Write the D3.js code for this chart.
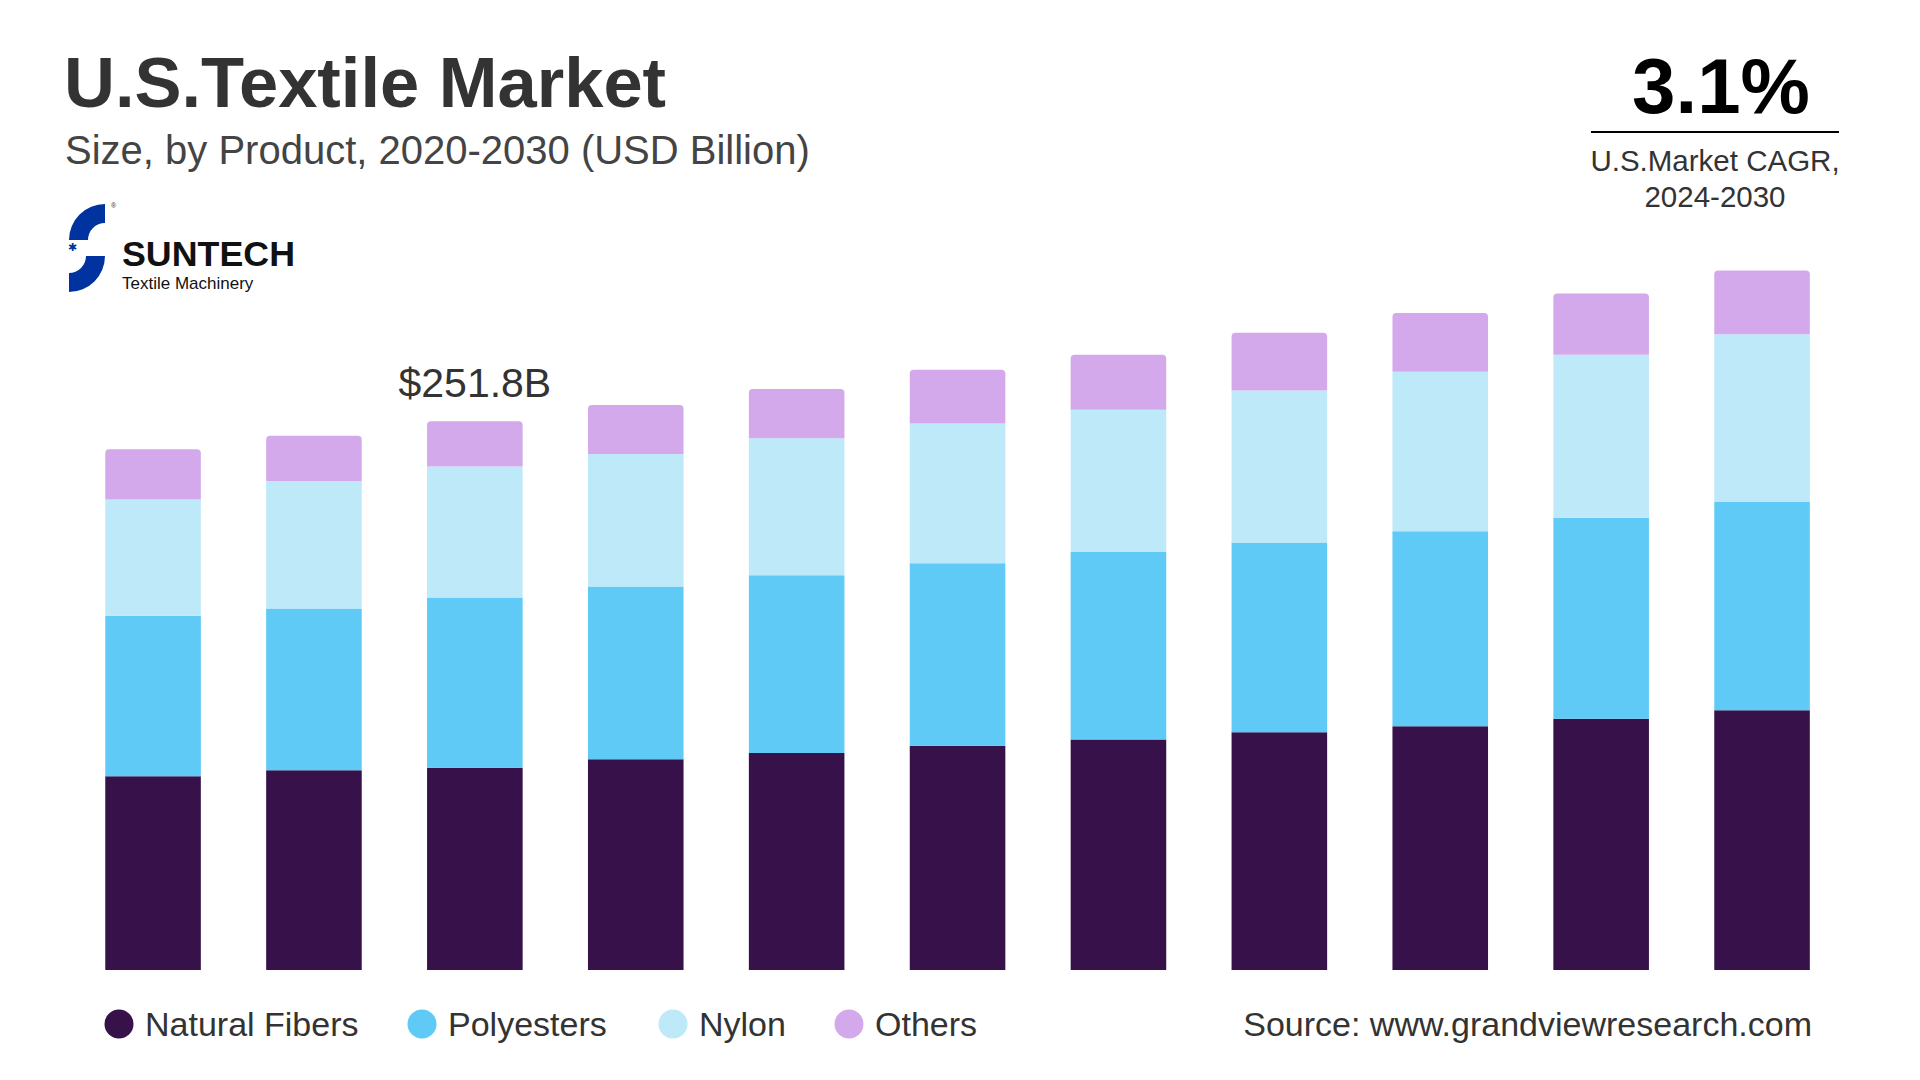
<!DOCTYPE html>
<html><head><meta charset="utf-8">
<script src="https://cdn.jsdelivr.net/npm/d3@7"></script>
<style>html,body{margin:0;padding:0;background:#fff;}svg{display:block;font-family:"Liberation Sans",Arial,sans-serif;}</style>
</head><body>
<svg id="chart" width="1920" height="1080"></svg>
<script>
const years = ["2020","2021","2022","2023","2024","2025","2026","2027","2028","2029","2030"];
const seriesNames = ["Natural Fibers","Polyesters","Nylon","Others"];
const seriesColors = ["#36114a","#5ecaf5","#bde9f9","#d4a9ec"];
const naturalFibers = [88.8, 91.6, 92.7, 96.7, 99.5, 102.8, 105.7, 109.0, 111.8, 115.2, 119.1];
const polyesters    = [73.6, 74.2, 78.1, 79.2, 81.5, 83.7, 86.0, 87.1, 89.4, 92.2, 95.5];
const nylon         = [53.4, 58.4, 60.1, 60.7, 62.9, 64.1, 65.2, 69.7, 73.1, 74.7, 77.0];
const others        = [23.0, 20.8, 20.8, 22.5, 22.5, 24.7, 25.3, 26.4, 27.0, 28.1, 29.2];
const highlightYear = "2022";
const highlightLabel = "$251.8B";

const svg = d3.select("#chart");
const table = years.map((y,i)=>({year:y,"Natural Fibers":naturalFibers[i],"Polyesters":polyesters[i],"Nylon":nylon[i],"Others":others[i]}));
const stack = d3.stack().keys(seriesNames)(table);

const baseY = 970;
const x = d3.scaleBand().domain(years).range([72.6, 1842.5]).paddingInner(0.406).paddingOuter(0.203);
const y = d3.scaleLinear().domain([0, 300]).range([baseY, baseY - 300*2.1806]);
const color = d3.scaleOrdinal().domain(seriesNames).range(seriesColors);

// bars
const g = svg.append("g");
stack.forEach((layer, li) => {
  const isTop = li === stack.length - 1;
  g.append("g").attr("fill", color(layer.key))
    .selectAll("path").data(layer).join("path")
    .attr("d", d => {
      const x0 = x(d.data.year), w = x.bandwidth();
      const yt = y(d[1]), yb = y(d[0]);
      if (!isTop) return `M${x0},${yb}V${yt}H${x0+w}V${yb}Z`;
      const r = 4;
      return `M${x0},${yb}V${yt+r}Q${x0},${yt} ${x0+r},${yt}H${x0+w-r}Q${x0+w},${yt} ${x0+w},${yt+r}V${yb}Z`;
    });
});

// highlight label
const hi = years.indexOf(highlightYear);
const hiTotal = naturalFibers[hi]+polyesters[hi]+nylon[hi]+others[hi];
svg.append("text").attr("x", x(highlightYear)+x.bandwidth()/2).attr("y", y(hiTotal)-24)
  .attr("text-anchor","middle").attr("font-size",41).attr("fill","#333").text(highlightLabel);

// title
svg.append("text").attr("x",64).attr("y",107).attr("font-size",70.5).attr("font-weight","bold")
  .attr("fill","#333").text("U.S.Textile Market");
svg.append("text").attr("x",65).attr("y",164).attr("font-size",40).attr("fill","#444")
  .text("Size, by Product, 2020-2030 (USD Billion)");

// logo
const arc = d3.arc();
svg.append("path").attr("transform","translate(105,240)").attr("fill","#0033a0")
  .attr("d", arc({innerRadius:17, outerRadius:36, startAngle:-Math.PI/2, endAngle:0}));
svg.append("path").attr("transform","translate(69,256)").attr("fill","#0033a0")
  .attr("d", arc({innerRadius:17, outerRadius:36, startAngle:Math.PI/2, endAngle:Math.PI}));
svg.append("text").attr("x",72).attr("y",251).attr("font-size",11).attr("fill","#0033a0").attr("text-anchor","middle").text("✱");
svg.append("text").attr("x",111).attr("y",208).attr("font-size",7).attr("fill","#333").text("®");
svg.append("text").attr("x",122).attr("y",266).attr("font-size",35).attr("font-weight","bold")
  .attr("fill","#111").attr("textLength",173).attr("lengthAdjust","spacingAndGlyphs").text("SUNTECH");
svg.append("text").attr("x",122).attr("y",289).attr("font-size",17).attr("fill","#111").text("Textile Machinery");

// CAGR
svg.append("text").attr("x",1721).attr("y",113).attr("text-anchor","middle").attr("font-size",78)
  .attr("font-weight","bold").attr("fill","#000").text("3.1%");
svg.append("line").attr("x1",1591).attr("x2",1839).attr("y1",132).attr("y2",132).attr("stroke","#000").attr("stroke-width",2);
svg.append("text").attr("x",1715).attr("y",171).attr("text-anchor","middle").attr("font-size",29.5).attr("fill","#333").text("U.S.Market CAGR,");
svg.append("text").attr("x",1715).attr("y",207).attr("text-anchor","middle").attr("font-size",29.5).attr("fill","#333").text("2024-2030");

// legend
const legendX = [119, 422, 673, 849];
const lg = svg.append("g");
seriesNames.forEach((n,i)=>{
  lg.append("circle").attr("cx",legendX[i]).attr("cy",1024).attr("r",14.5).attr("fill",color(n));
  lg.append("text").attr("x",legendX[i]+26).attr("y",1036).attr("font-size",34).attr("fill","#333").text(n);
});
svg.append("text").attr("x",1812).attr("y",1036).attr("text-anchor","end").attr("font-size",34).attr("fill","#333")
  .text("Source: www.grandviewresearch.com");
</script>
</body></html>
